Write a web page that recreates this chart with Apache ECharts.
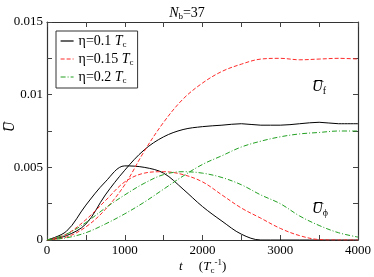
<!DOCTYPE html>
<html>
<head>
<meta charset="utf-8">
<script src="https://cdn.jsdelivr.net/npm/echarts@6/dist/echarts.min.js"></script>
<style>html,body{margin:0;padding:0;background:#fff}#c{width:374px;height:277px}</style>
</head>
<body>
<div id="c"></div>
<script>
// time grid (units of 1/Tc)
const tValues = [0,250,500,750,1000,1250,1500,1750,2000,2250,2500,2750,3000,3250,3500,3750,4000];
// eta = 0.1 Tc
const uf_01   = [0,0.0003,0.0011,0.0031,0.0048,0.0062,0.0071,0.0076,0.0078,0.0079,0.0080,0.0079,0.0079,0.0080,0.0081,0.0080,0.0080];
const uphi_01 = [0,0.0006,0.0024,0.0040,0.0051,0.0050,0.0046,0.0035,0.0023,0.0013,0.0004,0.0000,0,0,0,0,0];
// eta = 0.15 Tc
const uf_015   = [0,0.0002,0.0009,0.0021,0.0038,0.0061,0.0081,0.0097,0.0108,0.0116,0.0121,0.01245,0.0125,0.0124,0.01245,0.0125,0.01245];
const uphi_015 = [0,0.0004,0.0014,0.0027,0.0040,0.0046,0.0047,0.0045,0.0040,0.0031,0.0022,0.0015,0.0008,0.0003,0.00003,0,0];
// eta = 0.2 Tc
const uf_02   = [0,0.00015,0.0005,0.0011,0.0018,0.0026,0.0035,0.0044,0.0052,0.0058,0.0064,0.0068,0.0071,0.0073,0.0074,0.0075,0.0075];
const uphi_02 = [0,0.0004,0.0012,0.0022,0.0031,0.0039,0.0045,0.0047,0.0046,0.0043,0.0038,0.0031,0.0025,0.00165,0.0010,0.0005,0.0002];

const names = ['η=0.1','η=0.15','η=0.2'];
const xTicks = [0,1000,2000,3000,4000];
const yTicks = [0,0.005,0.01,0.015];

const pair = a => tValues.map((t,i)=>[t,a[i]]);
const FONT = 'Liberation Serif';
const colors = ['#000000','#ff2a2a','#22a022'];
const dashes = ['solid',[4,2],[5,2,1,2]];

function mk(name, data, k){
  return {name, type:'line', data:pair(data), showSymbol:false, symbol:'circle', symbolSize:0, smooth:0.35,
    lineStyle:{color:colors[k], width:1, type:dashes[k]}, itemStyle:{color:colors[k]}, z:3};
}

const axisCommon = {
  axisLine:{show:true,onZero:false,lineStyle:{color:'#333',width:1.2}},
  axisTick:{show:true,inside:true,length:5,lineStyle:{color:'#444'}},
  minorTick:{show:true,splitNumber:2,length:5,lineStyle:{color:'#444'}},
  splitLine:{show:false}
};
const lab = {fontFamily:FONT,fontSize:13,color:'#000',fontWeight:'normal',
  rich:{v:{fontFamily:FONT,fontSize:13,color:'#000'}}};

const chart = echarts.init(document.getElementById('c'));
chart.setOption({
  animation:false,
  backgroundColor:'#fff',
  textStyle:{fontFamily:FONT},
  title:{
    text:'{i|N}{s|b}{n|=37}', left:'center', top:1,
    textStyle:{fontWeight:'normal',fontFamily:FONT,rich:{i:{fontFamily:FONT,fontStyle:'italic',fontWeight:'normal',fontSize:14,color:'#000'},
      s:{fontFamily:FONT,fontSize:9,fontWeight:'normal',color:'#000',padding:[6,0,0,0]},
      n:{fontFamily:FONT,fontSize:14,fontWeight:'normal',color:'#000'}}}
  },
  grid:{left:47,right:14,top:22,bottom:37},
  legend:{
    show:true,
    data:names, orient:'vertical', left:56, top:31,
    borderColor:'#333', borderWidth:1, padding:[3,4,3,4], itemGap:3,
    itemWidth:13, itemHeight:14,
    itemStyle:{opacity:0},
    lineStyle:{width:1.2},
    formatter: n => n+' {i|T}{s|c}',
    textStyle:{fontFamily:FONT,fontSize:14,color:'#000',
      rich:{i:{fontFamily:FONT,fontStyle:'italic',fontSize:14,color:'#000'},
        s:{fontFamily:FONT,fontSize:9,color:'#000',padding:[7,0,0,0]}}}
  },
  xAxis:[
    Object.assign({type:'value',min:0,max:4000,interval:1000,position:'bottom',
      axisLabel:Object.assign({margin:4,formatter:v=>'{v|'+String(v)+'}'},lab)}, axisCommon),
    Object.assign({type:'value',min:0,max:4000,interval:1000,position:'top',
      axisLabel:{show:false}}, axisCommon)
  ],
  yAxis:[
    Object.assign({type:'value',min:0,max:0.015,interval:0.005,position:'left',
      axisLabel:Object.assign({margin:4,formatter:v=>'{v|'+String(+(+v).toFixed(3))+'}'},lab)}, axisCommon),
    Object.assign({type:'value',min:0,max:0.015,interval:0.005,position:'right',
      axisLabel:{show:false}}, axisCommon)
  ],
  series:[
    mk(names[0],uf_01,0), mk(names[0],uphi_01,0),
    mk(names[1],uf_015,1), mk(names[1],uphi_015,1),
    mk(names[2],uf_02,2), mk(names[2],uphi_02,2)
  ],
  graphic:[
    {type:'text', left:3, top:122, rotation:Math.PI/2, style:{text:'U\u0305', font:'italic 14px "Liberation Serif"', fill:'#000'}},
    {type:'text', left:179, top:258, style:{rich:{i:{fontFamily:FONT,fontStyle:'italic',fontSize:13},n:{fontFamily:FONT,fontSize:13},s:{fontFamily:FONT,fontSize:9,padding:[0,0,8,0]},b:{fontFamily:FONT,fontSize:9,padding:[8,0,0,0]}},
      text:'{i|t}{n|     (}{i|T}{b|c}{s|-1}{n|)}'}},
    {type:'text', left:312, top:80, style:{rich:{i:{fontFamily:FONT,fontStyle:'italic',fontSize:15},s:{fontFamily:FONT,fontSize:10,padding:[8,0,0,0]}}, text:'{i|U\u0305}{s|f}'}},
    {type:'text', left:312, top:202, style:{rich:{i:{fontFamily:FONT,fontStyle:'italic',fontSize:15},s:{fontFamily:FONT,fontSize:10,padding:[8,0,0,0]}}, text:'{i|U\u0305}{s|ϕ}'}}
  ]
});
</script>
</body>
</html>
